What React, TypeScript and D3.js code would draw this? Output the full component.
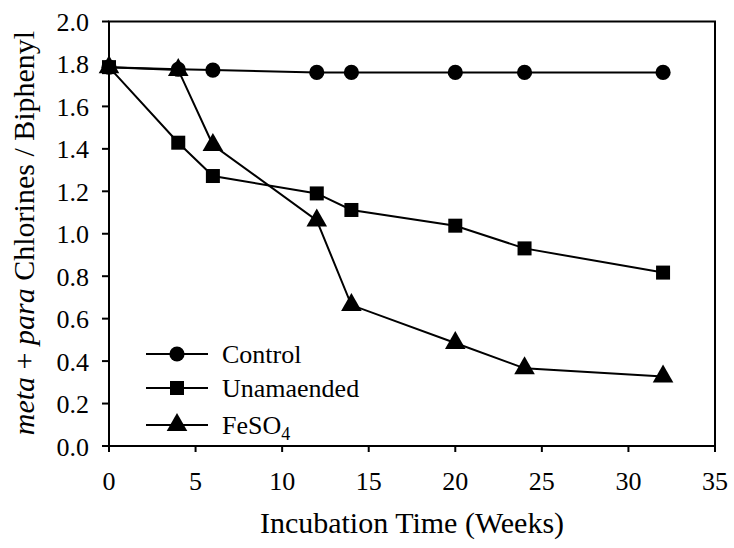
import React from "react";
import * as d3 from "d3";

// Incubation time points (weeks)
const weeks = [0, 4, 6, 12, 14, 20, 24, 32];

// meta + para chlorines per biphenyl for each treatment
const control = [1.785, 1.775, 1.771, 1.76, 1.76, 1.76, 1.76, 1.76];
const unamended = [1.785, 1.429, 1.272, 1.19, 1.112, 1.038, 0.931, 0.817];
const feso4 = [1.785, 1.772, 1.418, 1.063, 0.664, 0.485, 0.366, 0.327];

const xTicks = [0, 5, 10, 15, 20, 25, 30, 35];
const yTicks = [0, 0.2, 0.4, 0.6, 0.8, 1.0, 1.2, 1.4, 1.6, 1.8, 2.0];

const W = 734;
const H = 548;
const plot = { left: 109, right: 715, top: 21.5, bottom: 446 };
const FONT = "'Liberation Serif', 'Times New Roman', serif";

type Shape = "circle" | "square" | "triangle";

function Marker({ x, y, shape }: { x: number; y: number; shape: Shape }) {
  if (shape === "circle") return <circle cx={x} cy={y} r={7.6} fill="#000" />;
  if (shape === "square")
    return <rect x={x - 7} y={y - 7} width={14} height={14} fill="#000" />;
  // triangle centred on its centroid
  const hw = 10.3;
  return (
    <path
      d={`M${x},${y - 12} L${x + hw},${y + 6} L${x - hw},${y + 6} Z`}
      fill="#000"
    />
  );
}

export default function App() {
  const x = d3.scaleLinear().domain([0, 35]).range([plot.left, plot.right]);
  const y = d3.scaleLinear().domain([0, 2]).range([plot.bottom, plot.top]);
  const fmt = d3.format(".1f");

  const series: { name: string; values: number[]; shape: Shape }[] = [
    { name: "Control", values: control, shape: "circle" },
    { name: "Unamaended", values: unamended, shape: "square" },
    { name: "FeSO4", values: feso4, shape: "triangle" },
  ];

  const line = d3
    .line<[number, number]>()
    .x((d) => x(d[0]))
    .y((d) => y(d[1]));

  const legendRows = [354, 388, 425];

  return (
    <svg
      width={W}
      height={H}
      style={{ position: "absolute", left: 0, top: 0, background: "#fff" }}
      fontFamily={FONT}
    >
      <rect width={W} height={H} fill="#fff" />

      {/* frame */}
      <path
        d={`M${plot.left},${plot.bottom} L${plot.left},${plot.top} L${plot.right},${plot.top} L${plot.right},${plot.bottom} Z`}
        fill="none"
        stroke="#000"
        strokeWidth={2}
      />

      {/* y axis ticks + labels */}
      {yTicks.map((t) => (
        <g key={"y" + t}>
          <line x1={plot.left - 7} x2={plot.left} y1={y(t)} y2={y(t)} stroke="#000" strokeWidth={2} />
          <text x={89} y={y(t) + 9.5} textAnchor="end" fontSize={26}>
            {fmt(t)}
          </text>
        </g>
      ))}

      {/* x axis ticks + labels */}
      {xTicks.map((t) => (
        <g key={"x" + t}>
          <line x1={x(t)} x2={x(t)} y1={plot.bottom} y2={plot.bottom + 6} stroke="#000" strokeWidth={2} />
          <text x={x(t)} y={490} textAnchor="middle" fontSize={26}>
            {t}
          </text>
        </g>
      ))}

      {/* axis titles */}
      <text x={412} y={533} textAnchor="middle" fontSize={30}>
        Incubation Time (Weeks)
      </text>
      <text
        transform="translate(34,233) rotate(-90)"
        textAnchor="middle"
        fontSize={30}
      >
        <tspan fontStyle="italic">meta</tspan>
        <tspan> + </tspan>
        <tspan fontStyle="italic">para</tspan>
        <tspan> Chlorines / Biphenyl</tspan>
      </text>

      {/* series lines */}
      {series.map((s) => (
        <path
          key={"l" + s.name}
          d={line(weeks.map((w, i) => [w, s.values[i]]) as [number, number][]) || ""}
          fill="none"
          stroke="#000"
          strokeWidth={2}
        />
      ))}

      {/* series markers */}
      {series.map((s) => (
        <g key={"m" + s.name}>
          {weeks.map((w, i) => (
            <Marker key={i} x={x(w)} y={y(s.values[i])} shape={s.shape} />
          ))}
        </g>
      ))}

      {/* legend */}
      {series.map((s, i) => (
        <g key={"lg" + s.name}>
          <line x1={146} x2={208} y1={legendRows[i]} y2={legendRows[i]} stroke="#000" strokeWidth={2} />
          <Marker x={177} y={legendRows[i]} shape={s.shape} />
          <text x={222} y={legendRows[i] + 9} fontSize={26}>
            {s.name === "FeSO4" ? (
              <>
                FeSO
                <tspan fontSize={18} dy={6}>4</tspan>
              </>
            ) : (
              s.name
            )}
          </text>
        </g>
      ))}
    </svg>
  );
}
